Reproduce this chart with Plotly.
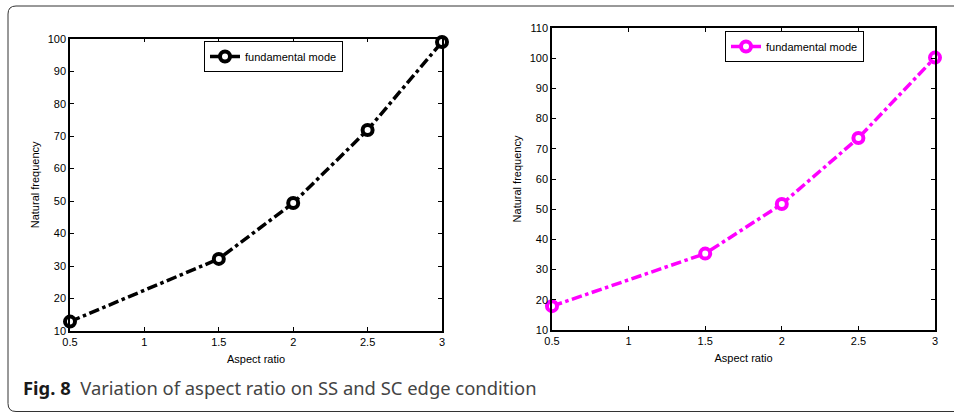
import plotly.graph_objects as go

W, H = 954, 412

aspect_ratio = [0.5, 1.5, 2.0, 2.5, 3.0]
freq_ss = [12.9, 32.2, 49.4, 71.9, 99.0]
freq_sc = [17.9, 35.3, 51.7, 73.6, 100.2]
x_ticks = [0.5, 1, 1.5, 2, 2.5, 3]
x_ticklabels = ["0.5", "1", "1.5", "2", "2.5", "3"]
series_name = "fundamental mode"
x_title = "Aspect ratio"
y_title = "Natural frequency"
caption_bold = "Fig. 8"
caption_rest = "Variation of aspect ratio on SS and SC edge condition"

def px_x(p):
    return p / W

def px_y(p):
    return 1 - p / H

fig = go.Figure()

fig.add_trace(go.Scatter(
    x=aspect_ratio, y=freq_ss, mode="lines+markers", name=series_name,
    line=dict(color="black", width=3.5, dash="dashdot"),
    marker=dict(symbol="circle", size=10, color="white", line=dict(color="black", width=4)),
    xaxis="x", yaxis="y", legend="legend", cliponaxis=False,
))
fig.add_trace(go.Scatter(
    x=aspect_ratio, y=freq_sc, mode="lines+markers", name=series_name,
    line=dict(color="#ff00ff", width=3.5, dash="dashdot"),
    marker=dict(symbol="circle", size=10, color="white", line=dict(color="#ff00ff", width=4)),
    xaxis="x2", yaxis="y2", legend="legend2", cliponaxis=False,
))

axis_font = dict(family="Liberation Sans, Arial, sans-serif", size=11, color="black")
common_x = dict(
    tickmode="array", tickvals=x_ticks, ticktext=x_ticklabels, range=[0.5, 3],
    showgrid=False, zeroline=False, showline=True, linecolor="black", linewidth=1.5,
    mirror="ticks", ticks="inside", ticklen=4, tickcolor="black", tickwidth=1,
    tickfont=axis_font, automargin=False,
    title=dict(text=x_title, font=axis_font, standoff=8),
)
common_y = dict(
    showgrid=False, zeroline=False, showline=True, linecolor="black", linewidth=1.5,
    mirror="ticks", ticks="inside", ticklen=4, tickcolor="black", tickwidth=1,
    tickfont=axis_font, dtick=10, automargin=False,
    title=dict(text=y_title, font=axis_font, standoff=6),
)

leg_font = dict(family="Liberation Sans, Arial, sans-serif", size=11, color="black")

fig.update_layout(
    width=W, height=H, margin=dict(l=0, r=0, t=0, b=0, autoexpand=False),
    paper_bgcolor="white", plot_bgcolor="white",
    xaxis=dict(domain=[px_x(70), px_x(442)], anchor="y", **common_x),
    yaxis=dict(domain=[px_y(331), px_y(38.7)], anchor="x", range=[10, 100], **common_y),
    xaxis2=dict(domain=[px_x(552), px_x(935)], anchor="y2", **common_x),
    yaxis2=dict(domain=[px_y(330), px_y(28)], anchor="x2", range=[10, 110], **common_y),
    legend=dict(x=px_x(204), y=px_y(41), xanchor="left", yanchor="top",
                bgcolor="white", bordercolor="black", borderwidth=1,
                font=leg_font, itemwidth=30, tracegroupgap=0),
    legend2=dict(x=px_x(725), y=px_y(31), xanchor="left", yanchor="top",
                 bgcolor="white", bordercolor="black", borderwidth=1,
                 font=leg_font, itemwidth=30, tracegroupgap=0),
    showlegend=True,
)

# Figure frame (rounded left corners)
r = 8
path = (f"M {px_x(W+2)},{px_y(6)} L {px_x(8+r)},{px_y(6)} "
        f"Q {px_x(8)},{px_y(6)} {px_x(8)},{px_y(6+r)} "
        f"L {px_x(8)},{px_y(411.5-r)} Q {px_x(8)},{px_y(411.5)} {px_x(8+r)},{px_y(411.5)} "
        f"L {px_x(W+2)},{px_y(411.5)}")
fig.add_shape(type="path", path=path, xref="paper", yref="paper",
              line=dict(color="#333333", width=1))

fig.add_annotation(
    x=px_x(21), y=px_y(387), xref="paper", yref="paper", xanchor="left", yanchor="middle",
    showarrow=False,
    text=f"<b>{caption_bold}</b>  <span style='color:#444444'>{caption_rest}</span>",
    font=dict(family="Noto Sans, Open Sans, sans-serif", size=18.4, color="#1a1a1a"),
)

fig.write_html("out.html")
